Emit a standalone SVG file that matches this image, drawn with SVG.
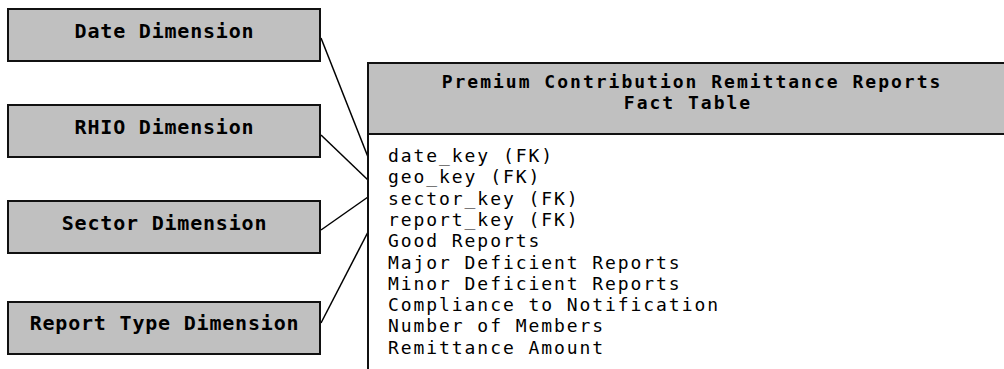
<svg xmlns="http://www.w3.org/2000/svg" width="1004" height="369" viewBox="0 0 1004 369">
  <style>
    .dim { fill: #c0c0c0; stroke: #111; stroke-width: 2; }
    .dim-label { font-family: "DejaVu Sans Mono", "Liberation Mono", monospace; font-weight: bold; font-size: 20px; letter-spacing: 0.8px; text-anchor: middle; fill: #000; }
    .fact-head { fill: #c0c0c0; stroke: #111; stroke-width: 2; }
    .fact-title { font-family: "DejaVu Sans Mono", "Liberation Mono", monospace; font-weight: bold; font-size: 18px; letter-spacing: 2px; text-anchor: middle; fill: #000; }
    .field { font-family: "DejaVu Sans Mono", "Liberation Mono", monospace; font-size: 18px; letter-spacing: 1.93px; fill: #000; }
    .link { stroke: #000; stroke-width: 1.5; fill: none; }
  </style>
  <rect width="1004" height="369" fill="#fff"/>

  <!-- relationships: each dimension joins the fact table's left edge -->
  <g id="connectors">
    <line class="link" x1="321" y1="38" x2="368" y2="157"/>
    <line class="link" x1="321" y1="135" x2="368" y2="180"/>
    <line class="link" x1="321" y1="230" x2="368" y2="197"/>
    <line class="link" x1="321" y1="323" x2="368" y2="232"/>
  </g>

  <g id="date-dimension">
    <rect class="dim" x="8" y="9" width="312" height="52"/>
    <text class="dim-label" x="164.5" y="38">Date Dimension</text>
  </g>

  <g id="rhio-dimension">
    <rect class="dim" x="8" y="105" width="312" height="52"/>
    <text class="dim-label" x="164.5" y="134">RHIO Dimension</text>
  </g>

  <g id="sector-dimension">
    <rect class="dim" x="8" y="201" width="312" height="52"/>
    <text class="dim-label" x="164.5" y="230">Sector Dimension</text>
  </g>

  <g id="report-type-dimension">
    <rect class="dim" x="8" y="302" width="312" height="52"/>
    <text class="dim-label" x="164.5" y="330">Report Type Dimension</text>
  </g>

  <!-- fact table runs off the right and bottom edges -->
  <g id="fact-table">
    <rect x="368" y="63" width="660" height="330" fill="#fff" stroke="#111" stroke-width="2"/>
    <rect class="fact-head" x="368" y="63" width="660" height="71"/>
    <text class="fact-title" x="692" y="88">Premium Contribution Remittance Reports</text>
    <text class="fact-title" x="688" y="109">Fact Table</text>
    <text class="field" x="388">
      <tspan x="388" y="162">date_key (FK)</tspan>
      <tspan x="388" y="183.3">geo_key (FK)</tspan>
      <tspan x="388" y="204.6">sector_key (FK)</tspan>
      <tspan x="388" y="225.9">report_key (FK)</tspan>
      <tspan x="388" y="247.2">Good Reports</tspan>
      <tspan x="388" y="268.5">Major Deficient Reports</tspan>
      <tspan x="388" y="289.8">Minor Deficient Reports</tspan>
      <tspan x="388" y="311.1">Compliance to Notification</tspan>
      <tspan x="388" y="332.4">Number of Members</tspan>
      <tspan x="388" y="353.7">Remittance Amount</tspan>
    </text>
  </g>
</svg>
